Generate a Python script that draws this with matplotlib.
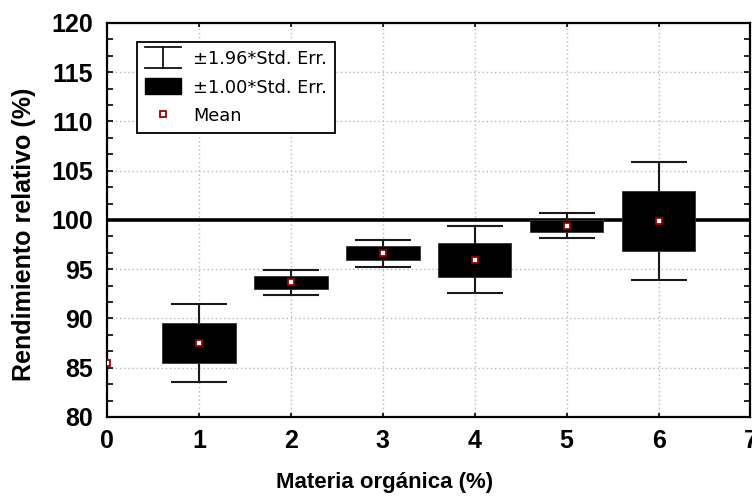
import numpy as np
import matplotlib
matplotlib.use("Agg")
import matplotlib.pyplot as plt
from matplotlib.lines import Line2D
from matplotlib.patches import Rectangle
from matplotlib.legend_handler import HandlerBase
from matplotlib.ticker import MultipleLocator, AutoMinorLocator

# data
materia = [0, 1, 2, 3, 4, 5, 6]
means = [85.5, 87.5, 93.65, 96.6, 95.95, 99.4, 99.9]
std_err = [np.nan, 2.0, 0.66, 0.71, 1.74, 0.64, 3.05]
ref_line = 100
legend_labels = ["\u00b11.96*Std. Err.", "\u00b11.00*Std. Err.", "Mean"]

plt.rcParams['font.family'] = ['Liberation Sans', 'DejaVu Sans']

x = np.array(materia, dtype=float)
m = np.array(means)
se = np.array(std_err)
has_box = ~np.isnan(se)


# legend symbol for the whiskers: cap - stem - cap
class WhiskerHandler(HandlerBase):
    def create_artists(self, legend, orig_handle, xdescent, ydescent,
                       width, height, fontsize, trans):
        x0, x1 = -xdescent, -xdescent + width
        xc = (x0 + x1) / 2
        y0, y1 = -ydescent - 2, -ydescent + height + 2
        lines = [Line2D([x0, x1], [y1, y1]), Line2D([x0, x1], [y0, y0]),
                 Line2D([xc, xc], [y0, y1])]
        for l in lines:
            l.set_color("#111111")
            l.set_linewidth(1.3)
            l.set_transform(trans)
        return lines


fig = plt.figure(figsize=(7.52, 4.97), dpi=100)
ax = fig.add_axes([0.1423, 0.161, 0.8557, 0.793])

ax.grid(True, which="major", color="#b8b8b8", linestyle=(0, (1, 2)), linewidth=1)
ax.set_axisbelow(True)

ax.axhline(ref_line, color="black", linewidth=2.6, zorder=2)

# whiskers +-1.96 SE
ax.errorbar(x[has_box], m[has_box], yerr=1.96 * se[has_box], fmt="none",
            ecolor="#1a1a1a", elinewidth=1.5, capsize=20, capthick=1.5, zorder=3)
# boxes +-1 SE
ax.bar(x[has_box], 2 * se[has_box], bottom=m[has_box] - se[has_box], width=0.8,
       color="black", edgecolor="#333333", linewidth=0.6, zorder=4)
# means
ax.plot(x, m, linestyle="none", marker="s", markersize=4.6, markerfacecolor="white",
        markeredgecolor="#9a0000", markeredgewidth=1.3, zorder=5)

ax.set_xlim(0, 7)
ax.set_ylim(80, 120)
ax.xaxis.set_major_locator(MultipleLocator(1))
ax.yaxis.set_major_locator(MultipleLocator(5))
ax.yaxis.set_minor_locator(AutoMinorLocator(3))
ax.tick_params(axis="both", which="both", direction="in", top=True, right=True,
               width=1.2, color="black")
ax.tick_params(axis="y", which="major", length=4, pad=10, labelsize=18)
ax.tick_params(axis="y", which="minor", length=4)
ax.tick_params(axis="x", which="major", length=3, pad=9, labelsize=18)
for lab in ax.get_xticklabels() + ax.get_yticklabels():
    lab.set_fontweight("bold")
for sp in ax.spines.values():
    sp.set_linewidth(1.6)
    sp.set_color("black")

ax.set_xlabel("Materia orgánica (%)", fontsize=16, fontweight="bold", va="top")
ax.set_ylabel("Rendimiento relativo (%)", fontsize=18, fontweight="bold")
ax.xaxis.set_label_coords(0.432, -0.14)
ax.yaxis.set_label_coords(-0.11, 0.464)

h_whisk = Line2D([], [])
h_box = Rectangle((0, 0), 1, 1, facecolor="black", edgecolor="black")
h_mean = Line2D([], [], linestyle="none", marker="s", markersize=4.6,
                markerfacecolor="white", markeredgecolor="#9a0000", markeredgewidth=1.3)
leg = ax.legend([h_whisk, h_box, h_mean], legend_labels,
                handler_map={h_whisk: WhiskerHandler()},
                loc="upper left", bbox_to_anchor=(0.0466, 0.952),
                prop={"family": "DejaVu Sans", "size": 12.8},
                frameon=True, fancybox=False, edgecolor="black", framealpha=1,
                handlelength=2.0, handleheight=1.0, labelspacing=0.6,
                borderpad=0.45, handletextpad=0.7, borderaxespad=0)
leg.get_frame().set_linewidth(1.3)

fig.savefig("out.png", dpi=100)
